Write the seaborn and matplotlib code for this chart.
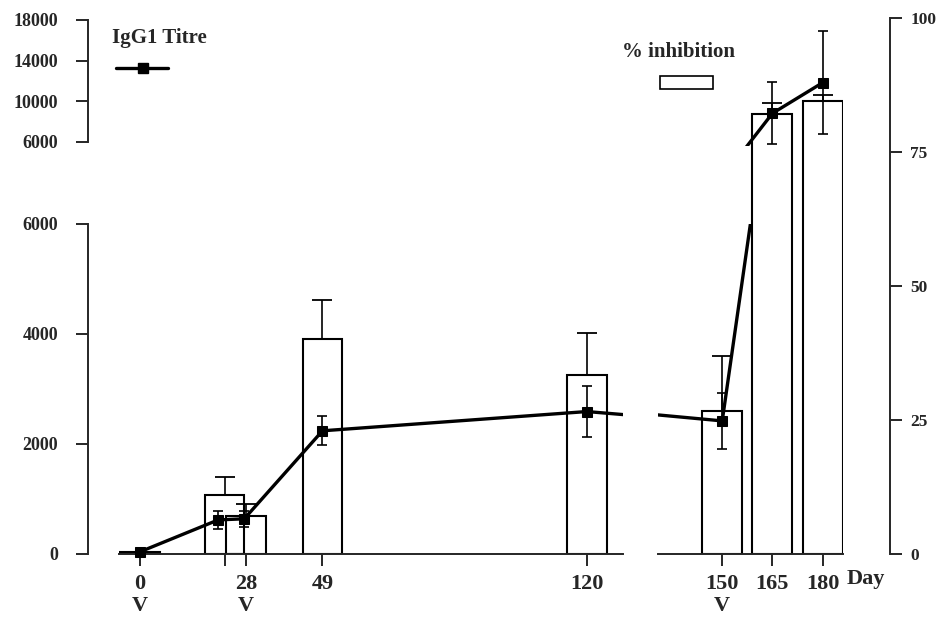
import matplotlib
matplotlib.use("Agg")
import matplotlib.pyplot as plt
from matplotlib.lines import Line2D
from matplotlib.patches import Rectangle
import seaborn as sns

# ─────────────────────────────────────────────
# Data
# ─────────────────────────────────────────────
titre_days = [0, 21, 28, 49, 120, 150, 165, 180]
titre      = [40, 620, 640, 2240, 2590, 2420, 8800, 11820]
titre_err  = [0, 160, 150, 265, 460, 515, 3060, 5060]

inhib_days = [0, 22.7, 28.4, 49, 120, 150, 165, 180]
inhib      = [0.3, 11.1, 7.1, 40.1, 33.5, 26.7, 82.1, 84.6]
inhib_err  = [0, 3.3, 2.2, 7.4, 7.7, 10.3, 2.0, 1.0]

ticks_seg1  = [0, 22.7, 28.4, 49, 120]
labels_seg1 = ["0\nV", "", "28\nV", "49", "120"]
ticks_seg2  = [150, 165, 180]
labels_seg2 = ["150\nV", "165", "180"]

low_ticks   = [0, 2000, 4000, 6000]
up_ticks    = [6000, 10000, 14000, 18000]
right_ticks = [0, 25, 50, 75, 100]

# ─────────────────────────────────────────────
# Style
# ─────────────────────────────────────────────
sns.set_style("ticks")
plt.rcParams["font.family"] = ["Liberation Serif", "DejaVu Serif"]
plt.rcParams["font.weight"] = "bold"
plt.rcParams["axes.linewidth"] = 1.4

W, H = 941, 620
fig = plt.figure(figsize=(W / 100, H / 100), dpi=100)


def box(x0, x1, y_top, y_bot):
    # pixel box -> figure fraction [left, bottom, width, height]
    return [x0 / W, 1 - y_bot / H, (x1 - x0) / W, (y_bot - y_top) / H]


SEG1, SEG2 = (119, 623), (658, 843)
XLIM1, XLIM2 = (-5.64, 129.7), (130.8, 186.1)
BAR_W1, BAR_W2 = 10.7, 12.0

# bars (% inhibition) - full height, right axis 0..100
ax_b1 = fig.add_axes(box(*SEG1, 18.3, 554))
ax_b2 = fig.add_axes(box(*SEG2, 18.3, 554))
# line (IgG1 titre) - lower part 0..6000, upper part 6000..18000
ax_lo1 = fig.add_axes(box(*SEG1, 224, 565))
ax_lo2 = fig.add_axes(box(*SEG2, 224, 565))
ax_up1 = fig.add_axes(box(*SEG1, 20, 145.8))
ax_up2 = fig.add_axes(box(*SEG2, 20, 145.8))

for ax, xl, bw in [(ax_b1, XLIM1, BAR_W1), (ax_b2, XLIM2, BAR_W2)]:
    ax.set_zorder(1)
    ax.patch.set_visible(False)
    ax.bar(inhib_days, inhib, width=bw, facecolor="none", edgecolor="black",
           linewidth=1.5, yerr=[[0] * len(inhib_err), inhib_err],
           error_kw=dict(ecolor="black", elinewidth=1.2, capsize=7.5, capthick=1.3))
    ax.set_xlim(*xl)
    ax.set_ylim(0, 100)
    for s in ["top", "left", "right"]:
        ax.spines[s].set_visible(False)
    ax.tick_params(axis="x", direction="out", length=8.6, width=1.4,
                   labelsize=16, pad=5.5)
    ax.set_yticks([])

ax_b1.set_xticks(ticks_seg1, labels_seg1, linespacing=1.15)
ax_b2.set_xticks(ticks_seg2, labels_seg2, linespacing=1.15)

ax_b2.spines["right"].set_visible(True)
ax_b2.spines["right"].set_position(("outward", 33.8))
ax_b2.yaxis.set_ticks_position("right")
ax_b2.set_yticks(right_ticks)
ax_b2.tick_params(axis="y", direction="out", length=8.6, width=1.4,
                  labelsize=12.5, pad=6)


def draw_titre(ax, xl, yl):
    ax.set_zorder(2)
    ax.patch.set_visible(False)
    sns.lineplot(x=titre_days, y=titre, ax=ax, color="black", lw=2.4,
                 marker="s", markersize=7.5, markeredgecolor="black")
    # error bars only for the points that sit in this part of the broken axis
    keep = [i for i, v in enumerate(titre) if yl[0] <= v <= yl[1]]
    ax.errorbar([titre_days[i] for i in keep], [titre[i] for i in keep],
                yerr=[titre_err[i] for i in keep], fmt="none", ecolor="black",
                elinewidth=1.2, capsize=3.5, capthick=1.2)
    ax.set_xlim(*xl)
    ax.set_ylim(*yl)
    for s in ax.spines.values():
        s.set_visible(False)
    ax.set_xticks([])
    ax.set_yticks([])


draw_titre(ax_lo1, XLIM1, (-200, 6000))
draw_titre(ax_lo2, XLIM2, (-200, 6000))
draw_titre(ax_up1, XLIM1, (5600, 18000))
draw_titre(ax_up2, XLIM2, (5600, 18000))

for ax, ticks in [(ax_lo1, low_ticks), (ax_up1, up_ticks)]:
    ax.spines["left"].set_visible(True)
    ax.spines["left"].set_position(("outward", 22.3))
    ax.spines["left"].set_bounds(ticks[0], ticks[-1])
    ax.set_yticks(ticks)
    ax.tick_params(axis="y", direction="out", length=8.6, width=1.4,
                   labelsize=13, pad=13)

# ─────────────────────────────────────────────
# Legend-style labels
# ─────────────────────────────────────────────
fig.text(112 / W, 1 - 43.3 / H, "IgG1 Titre", fontsize=15, fontweight="bold",
         va="baseline", ha="left", zorder=10)
fig.add_artist(Line2D([116 / W, 168 / W], [1 - 67.7 / H] * 2, color="black",
                      lw=2.4, transform=fig.transFigure, zorder=10))
fig.add_artist(Line2D([142.7 / W], [1 - 67.7 / H], color="black", marker="s",
                      markersize=7.5, transform=fig.transFigure, zorder=10))

fig.text(621.7 / W, 1 - 56.7 / H, "% inhibition", fontsize=15, fontweight="bold",
         va="baseline", ha="left", zorder=10)
fig.add_artist(Rectangle((660 / W, 1 - 89.3 / H), 53.3 / W, 13.3 / H,
                         facecolor="white", edgecolor="black", lw=1.2,
                         transform=fig.transFigure, zorder=10))

fig.text(846.7 / W, 1 - 584 / H, "Day", fontsize=16, fontweight="bold",
         va="baseline", ha="left", zorder=10)

plt.savefig("out.png", dpi=100)
